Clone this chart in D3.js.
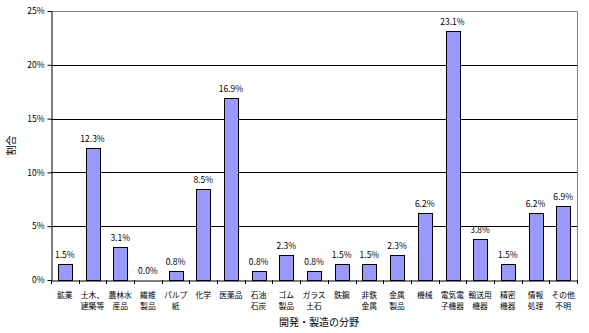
<!DOCTYPE html>
<html><head><meta charset="utf-8">
<script src="https://cdn.jsdelivr.net/npm/d3@7"></script>
<style>body{margin:0;background:#fff;}svg{display:block;font-family:"Noto Sans CJK JP","Noto Sans",sans-serif;}</style>
</head><body>
<svg id="c" width="589" height="333"></svg>
<script>
const categories = ["鉱業","土木、\n建築等","農林水\n産品","繊維\n製品","パルプ\n紙","化学","医薬品","石油\n石炭","ゴム\n製品","ガラス\n土石","鉄鋼","非鉄\n金属","金属\n製品","機械","電気電\n子機器","輸送用\n機器","精密\n機器","情報\n処理","その他\n不明"];
const values = [1.5,12.3,3.1,0.0,0.8,8.5,16.9,0.8,2.3,0.8,1.5,1.5,2.3,6.2,23.1,3.8,1.5,6.2,6.9];
const yTicks = [0,5,10,15,20,25];
const yTitle = "割合";
const xTitle = "開発・製造の分野";

const svg = d3.select("#c");
const L=51, R=577, T=11, B=280;
const x = d3.scaleBand().domain(d3.range(categories.length)).range([L,R]).paddingInner(0.5).paddingOuter(0.25);
const xb = d3.scaleBand().domain(d3.range(categories.length)).range([L,R]);
const y = d3.scaleLinear().domain([0,25]).range([B,T]);

svg.append("path").attr("d",`M${L},${T+0.5}H${R+0.5}V${B}`).attr("fill","none").attr("stroke","#808080").attr("stroke-width",1);
svg.append("g").selectAll("line").data(yTicks.filter(d=>d>0&&d<25)).join("line")
  .attr("x1",L).attr("x2",R).attr("y1",d=>Math.round(y(d))+0.5).attr("y2",d=>Math.round(y(d))+0.5)
  .attr("stroke","#000").attr("stroke-width",1);
svg.append("g").selectAll("rect").data(values).join("rect")
  .attr("x",(d,i)=>Math.round(x(i))+0.5).attr("width",Math.round(x.bandwidth()))
  .attr("y",d=>Math.round(y(d))+0.5).attr("height",d=>Math.max(0,Math.round(y(0))-Math.round(y(d))))
  .attr("fill","#9999ff").attr("stroke","#000").attr("stroke-width",1);
svg.append("g").selectAll("text").data(values).join("text")
  .attr("x",(d,i)=>xb(i)+xb.bandwidth()/2).attr("y",d=>y(d)-6)
  .attr("text-anchor","middle").attr("font-size",8.5).attr("fill","#000")
  .text(d=>d.toFixed(1)+"%");
const yAxis = d3.axisLeft(y).tickValues(yTicks).tickFormat(d=>d+"%").tickSize(4).tickSizeOuter(0);
const gy = svg.append("g").attr("transform",`translate(${L+0.5},0)`).call(yAxis);
gy.selectAll("text").attr("font-size",8.5).attr("font-family","'Noto Sans CJK JP',sans-serif").attr("x",-7);
gy.select(".domain").attr("stroke","#000");
const xAxis = d3.axisBottom(xb).tickValues([]).tickSizeOuter(0);
const gx = svg.append("g").attr("transform",`translate(0,${B+0.5})`).call(xAxis);
gx.select(".domain").attr("stroke","#000");
svg.append("g").selectAll("line").data(d3.range(categories.length+1)).join("line")
  .attr("x1",i=>Math.round(i<categories.length?xb(i):R)+0.5).attr("x2",i=>Math.round(i<categories.length?xb(i):R)+0.5)
  .attr("y1",B).attr("y2",B+4).attr("stroke","#000");
const cl = svg.append("g").selectAll("text").data(categories).join("text")
  .attr("x",(d,i)=>xb(i)+xb.bandwidth()/2).attr("y",298)
  .attr("text-anchor","middle").attr("font-size",7.8).attr("fill","#000");
cl.each(function(d){
  const t=d3.select(this);
  d.split("\n").forEach((s,k)=>t.append("tspan").attr("x",t.attr("x")).attr("dy",k===0?0:11).text(s));
});
svg.append("text").attr("transform",`translate(15,${(T+B)/2}) rotate(-90)`).attr("text-anchor","middle").attr("font-size",10).text(yTitle);
svg.append("text").attr("x",(L+R)/2+5).attr("y",326).attr("text-anchor","middle").attr("font-size",10).text(xTitle);
</script>
</body></html>
